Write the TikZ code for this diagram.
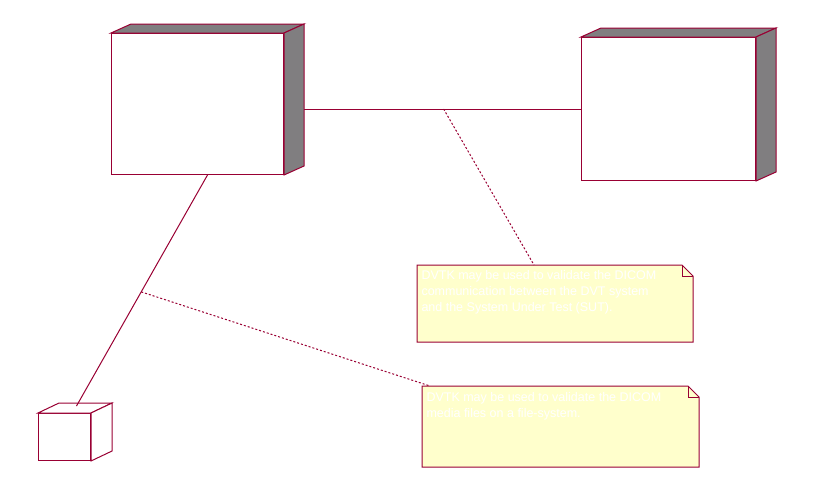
\documentclass[tikz,border=0pt]{standalone}
\usepackage{fontspec}
\setmainfont{Liberation Sans}
\usetikzlibrary{positioning}
\definecolor{umlred}{RGB}{153,0,51}
\definecolor{notebg}{RGB}{255,255,204}
\definecolor{shade}{RGB}{128,126,128}

\begin{document}
\begin{tikzpicture}[x=1pt,y=-1pt,line width=1pt,
  box/.style={draw=umlred,fill=white,rectangle,inner sep=0pt,anchor=north west},
  face/.style={draw=umlred,fill=shade},
  plainface/.style={draw=umlred,fill=white},
  link/.style={draw=umlred},
  anchorline/.style={draw=umlred,dash pattern=on 2pt off 2pt},
  notebox/.style={inner sep=0pt,anchor=north west},
  notetext/.style={inner sep=0pt,anchor=north west,text=white,align=left,
    font=\fontsize{12.5}{16}\selectfont}]
\useasboundingbox (0,0) rectangle (813,490);

% nodes
\node[box,minimum width=172pt,minimum height=141pt] (dvt) at (111,33) {};
\node[box,minimum width=174pt,minimum height=143pt] (sut) at (581,37) {};
\node[box,minimum width=52pt,minimum height=47pt] (media) at (38,413) {};

% depth faces
\draw[face] (dvt.north west) -- ([shift={(20,-9)}]dvt.north west) -- ([shift={(20,-9)}]dvt.north east) -- (dvt.north east) -- cycle;
\draw[face] (dvt.north east) -- ([shift={(20,-9)}]dvt.north east) -- ([shift={(20,-9)}]dvt.south east) -- (dvt.south east) -- cycle;
\draw[face] (sut.north west) -- ([shift={(20,-9)}]sut.north west) -- ([shift={(20,-9)}]sut.north east) -- (sut.north east) -- cycle;
\draw[face] (sut.north east) -- ([shift={(20,-9)}]sut.north east) -- ([shift={(20,-9)}]sut.south east) -- (sut.south east) -- cycle;
\draw[plainface] (media.north west) -- ([shift={(21,-10)}]media.north west) -- ([shift={(21,-10)}]media.north east) -- (media.north east) -- cycle;
\draw[plainface] (media.north east) -- ([shift={(21,-10)}]media.north east) -- ([shift={(21,-10)}]media.south east) -- (media.south east) -- cycle;

% notes
\node[notebox,minimum width=275pt,minimum height=76pt] (note1) at (417,265) {};
\node[notebox,minimum width=276pt,minimum height=80pt] (note2) at (422,386) {};
\filldraw[draw=umlred,fill=notebg] (note1.north west) -- ([xshift=-11pt]note1.north east) -- ([yshift=-11pt]note1.north east) -- (note1.south east) -- (note1.south west) -- cycle;
\draw[umlred] ([xshift=-11pt]note1.north east) |- ([yshift=-11pt]note1.north east);
\filldraw[draw=umlred,fill=notebg] (note2.north west) -- ([xshift=-11pt]note2.north east) -- ([yshift=-11pt]note2.north east) -- (note2.south east) -- (note2.south west) -- cycle;
\draw[umlred] ([xshift=-11pt]note2.north east) |- ([yshift=-11pt]note2.north east);
\node[notetext] (text1) at ([shift={(4,5)}]note1.north west)
  {DVTK may be used to validate the DICOM\\communication between the DVT system\\and the System Under Test (SUT).};
\node[notetext] (text2) at ([shift={(4,6)}]note2.north west)
  {DVTK may be used to validate the DICOM\\media files on a file-system.};

% connectors
\coordinate (dvtside) at ([xshift=20pt]dvt.east);
\draw[link] (dvtside |- sut.west) -- coordinate[pos=0.504] (mid1) (sut.west);
\draw[link] ([xshift=10pt]dvt.south) -- coordinate[pos=0.506] (mid2) ([shift={(12,-7)}]media.north);
\draw[anchorline] (mid1) -- ([xshift=-21pt]note1.north);
\draw[anchorline] (mid2) -- ([xshift=8pt]note2.north west);
\end{tikzpicture}
\end{document}
